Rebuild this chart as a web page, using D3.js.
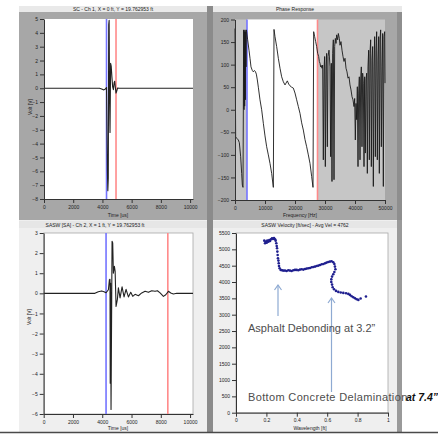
<!DOCTYPE html>
<html>
<head>
<meta charset="utf-8">
<script src="https://cdn.jsdelivr.net/npm/d3@7"></script>
<style>
  body { margin: 0; background: #fff; }
  svg { display: block; }
  text { font-family: "Liberation Sans", Arial, sans-serif; }
</style>
</head>
<body>
<svg id="chart" width="438" height="434"></svg>
<script>
// ---- Source signal (SC, channel 1) ----
const scTime = [0, 3800, 3950, 4100, 4200, 4280, 4340, 4370, 4400, 4430, 4460, 4490, 4520, 4560, 4600, 4650, 4700, 4750, 4800, 4840, 4880, 4930, 4980, 5040, 5150, 10200];
const scVolt = [0, 0, -0.05, -0.12, -0.05, 0.05, -6.0, -7.4, -6.5, 4.6, 4.9, -1.0, -3.2, 1.8, 1.6, 0.8, 0.1, -0.1, 0.4, 0.5, 0.1, -0.35, -0.2, 0.02, 0, 0];
const scCursors = [4280, 4930];

// ---- Receiver signal (SASW, channel 2) ----
const saTime = [0, 3500, 3730, 3960, 4120, 4260, 4420, 4490, 4530, 4545, 4570, 4600, 4670, 4715, 4760, 4830, 4880, 4943, 5034, 5103, 5217, 5354, 5490, 5627, 5787, 5946, 6083, 6242, 6470, 6698, 6926, 7154, 7382, 7610, 7769, 7952, 8179, 8339, 8521, 8681, 8863, 9090, 10200];
const saVolt = [0, 0, 0.08, 0.12, 0.08, 0.03, 0.18, 0.68, 0.7, -4.47, 0.5, -5.77, 2.59, 2.5, 1.0, 1.34, 1.1, -0.65, -0.3, 0.27, -0.23, 0.32, -0.18, 0.2, -0.18, 0.05, -0.15, -0.05, -0.12, 0.02, 0.1, 0.05, 0.13, 0.1, 0.13, 0.02, -0.15, -0.07, 0.1, 0.02, -0.03, 0, 0];
const saCursors = [4260, 8480];

// ---- Phase response ----
const phaseFreq = [0, 222, 556, 1111, 1444, 1889, 2222, 2444, 2667, 2778, 2889, 3000, 3111, 3222, 3333, 3444, 3556, 3667, 3778, 3889,
  4222, 4667, 5000, 5333, 5778, 6111, 6444, 6778, 7111, 7444, 7778, 8333, 8889, 9444, 10000, 10556, 11111, 11667, 12222, 12778,
  13000, 13333, 13889, 14444, 15000, 15556, 16111, 16667, 17000, 17444, 17889, 18333, 18889, 19444, 20000, 20556, 21111, 21667, 22222, 22778, 23333, 23889, 24444, 25000, 25556, 26000,
  26222, 26556, 26889, 27222, 27556, 27889, 28111, 28333, 28556, 28778, 29000, 29222, 29444, 29667, 29889, 30111, 30333, 30556, 30778, 31000, 31333, 31667, 31889, 32111, 32333, 32556, 32778, 33000, 33222, 33444, 33667, 33889, 34222, 34444, 34778, 35000, 35333, 35667, 36000, 36333, 36667, 37000, 37333, 37667, 38000, 38333, 38667, 39000, 39333, 39667, 39889,
  40111, 40333, 40556, 40778, 41000, 41222, 41444, 41667, 41889, 42111, 42333, 42556, 42778, 43000, 43222, 43444, 43667, 43889, 44111, 44333, 44556, 44778, 45000, 45222, 45444, 45667, 45889, 46111, 46333, 46556, 46778, 47000, 47222, 47444, 47667, 47889, 48111, 48333, 48556, 48778, 49000, 49222, 49444, 49667, 49889, 50000];
const phaseDeg = [180, -60, -63, -67, -73, -104, -141, -167, -172, 0, 177, 0, 173, 8, 177, 22, 173, 95, 177, 173,
  155, 132, 114, 95, 87, 84, 87, 85, 79, 66, 50, 22, 0, -30, -58, -82, -100, -119, -141, -172,
  178, 162, 140, 114, 92, 73, 62, 55, 59, 64, 57, 53, 50, 48, 37, 22, 7, -8, -29, -45, -66, -82, -100, -119, -148, -172,
  173, 162, 151, 140, 125, 118, 107, 103, 95, 98, 92, 99, -111, 88, 118, -126, 95, 125, -82, 118, 132, 95, -104, 103, -159, 125, 155, -155, 140, 158, 147, 166, 155, 169, 158, 143, 151, 132, 118, 107, 114, 92, 84, 70, 73, 55, 44, 29, 22, 7, 25,
  -67, 14, -22, 51, -126, 37, 73, -111, 66, 95, -82, 81, 59, -126, 73, -96, 66, 81, -141, 95, 132, -111, 125, 155, -126, 110, 140, -170, 95, 162, -104, 132, 173, -111, 110, 162, -141, 155, 177, -82, 95, 169, -170, 162, 173, 59];
const phaseCursors = [4000, 27500];

// ---- Dispersion curve ----
const wavelength = [0.186, 0.191, 0.197, 0.202, 0.206, 0.213, 0.219, 0.224, 0.230, 0.237, 0.243, 0.250, 0.257, 0.261, 0.265, 0.268, 0.270, 0.272, 0.274, 0.276, 0.279, 0.281, 0.283, 0.287, 0.294, 0.303, 0.311, 0.322, 0.333, 0.344, 0.355, 0.366, 0.377, 0.388, 0.399, 0.410, 0.421, 0.432, 0.443, 0.454, 0.465, 0.476, 0.487, 0.498, 0.509, 0.520, 0.531, 0.542, 0.553, 0.564, 0.575, 0.586, 0.596, 0.607, 0.618, 0.629, 0.640, 0.647, 0.651, 0.654, 0.647, 0.640, 0.632, 0.627, 0.627, 0.632, 0.636, 0.645, 0.658, 0.673, 0.689, 0.706, 0.724, 0.739, 0.750, 0.761, 0.772, 0.783, 0.794, 0.805, 0.820, 0.855];
const velocity = [5266, 5184, 5235, 5205, 5266, 5235, 5286, 5256, 5306, 5337, 5317, 5347, 5306, 5266, 5184, 5103, 5031, 4930, 4828, 4726, 4655, 4573, 4492, 4420, 4370, 4359, 4349, 4349, 4339, 4359, 4349, 4339, 4359, 4370, 4370, 4359, 4380, 4390, 4380, 4400, 4410, 4420, 4431, 4451, 4461, 4471, 4492, 4502, 4522, 4543, 4553, 4573, 4594, 4614, 4624, 4634, 4604, 4553, 4471, 4390, 4308, 4237, 4166, 4084, 4003, 3921, 3840, 3779, 3728, 3697, 3677, 3667, 3657, 3636, 3606, 3565, 3534, 3504, 3473, 3453, 3494, 3555];

// ---- Tick labels ----
const timeTicks = [0, 2000, 4000, 6000, 8000, 10000];
const scVoltTicks = [5, 4, 3, 2, 1, 0, -1, -2, -3, -4, -5, -6, -7, -8];
const saVoltTicks = [3, 2, 1, 0, -1, -2, -3, -4, -5, -6];
const freqTicks = [0, 10000, 20000, 30000, 40000, 50000];
const phaseTicks = [200, 150, 100, 50, 0, -50, -100, -150, -200];
const wlTicks = [0, 0.2, 0.4, 0.6, 0.8, 1];
const velTicks = [0, 500, 1000, 1500, 2000, 2500, 3000, 3500, 4000, 4500, 5000, 5500];

const svg = d3.select("#chart");

// ---------- panel chrome ----------
// bottom panels background
svg.append("rect").attr("x", 19).attr("y", 220).attr("width", 381).attr("height", 212).attr("fill", "#efefef");
// top frames
svg.append("rect").attr("x", 19).attr("y", 12).attr("width", 190).attr("height", 208).attr("fill", "#a7a7a7");
svg.append("rect").attr("x", 212).attr("y", 12).attr("width", 190).attr("height", 208).attr("fill", "#a7a7a7");
svg.append("rect").attr("x", 397).attr("y", 12).attr("width", 5).attr("height", 208).attr("fill", "#8e8e8e");
// title strips
svg.append("rect").attr("x", 19).attr("y", 6).attr("width", 383).attr("height", 6).attr("fill", "#e9e9e9");
svg.append("rect").attr("x", 19).attr("y", 221).attr("width", 378).attr("height", 7).attr("fill", "#e6e6e6");
// dividers
svg.append("rect").attr("x", 207).attr("y", 6).attr("width", 6).attr("height", 426).attr("fill", "#8b8b8b");
svg.append("rect").attr("x", 397).attr("y", 220).attr("width", 5).attr("height", 212).attr("fill", "#9a9a9a");
// bottom rule
svg.append("line").attr("x1", 0).attr("x2", 438).attr("y1", 432.5).attr("y2", 432.5).attr("stroke", "#4a4a4a").attr("stroke-width", 1.5);

function styleAxis(g) {
  g.attr("font-size", null).attr("font-family", null);
  g.selectAll("text").attr("font-size", 5).attr("fill", "#222");
  g.selectAll("line").attr("stroke", "#333");
  g.select(".domain").attr("stroke", "#333");
}

function title(x, y, t) {
  svg.append("text").attr("x", x).attr("y", y).attr("text-anchor", "middle")
    .attr("font-size", 5).attr("fill", "#222").text(t);
}

function axes(xs, ys, xt, yt, fmtX, fmtY, bottom, left) {
  svg.append("g").attr("transform", `translate(0,${bottom})`)
    .call(d3.axisBottom(xs).tickValues(xt).tickFormat(fmtX).tickSize(4).tickPadding(2).tickSizeOuter(0))
    .call(styleAxis);
  svg.append("g").attr("transform", `translate(${left},0)`)
    .call(d3.axisLeft(ys).tickValues(yt).tickFormat(fmtY).tickSize(4).tickPadding(2).tickSizeOuter(0))
    .call(styleAxis);
}

function cursors(xs, vals, y0, y1) {
  const cols = ["#7474ff", "#ff8a8a"];
  vals.forEach((v, i) => {
    svg.append("line").attr("x1", xs(v)).attr("x2", xs(v)).attr("y1", y0).attr("y2", y1)
      .attr("stroke", cols[i]).attr("stroke-width", 1.6);
  });
}

function trace(xs, ys, X, Y, color, w) {
  const pts = X.map((d, i) => [d, Y[i]]);
  svg.append("path").datum(pts)
    .attr("d", d3.line().x(d => xs(d[0])).y(d => ys(d[1])))
    .attr("fill", "none").attr("stroke", color).attr("stroke-width", w).attr("stroke-linejoin", "round");
}

const fmtInt = d3.format("d");

// ---------- top-left: source time history ----------
{
  const x = d3.scaleLinear().domain([0, 10200]).range([44, 193]);
  const y = d3.scaleLinear().domain([-8, 5]).range([199, 19]);
  svg.append("rect").attr("x", 44).attr("y", 19).attr("width", 149).attr("height", 180).attr("fill", "#fff");
  cursors(x, scCursors, 19, 199);
  trace(x, y, scTime, scVolt, "#222", 1.1);
  axes(x, y, timeTicks, scVoltTicks, fmtInt, fmtInt, 199, 44);
  title(113, 11, "SC - Ch 1, X = 0 ft, Y = 19.762953 ft");
  svg.append("text").attr("x", 118).attr("y", 217).attr("text-anchor", "middle").attr("font-size", 5).attr("fill", "#222").text("Time [us]");
  svg.append("text").attr("transform", "translate(32,107) rotate(-90)").attr("text-anchor", "middle").attr("font-size", 5).attr("fill", "#222").text("Volt [V]");
}

// ---------- top-right: phase response ----------
{
  const x = d3.scaleLinear().domain([0, 50000]).range([235, 385]);
  const y = d3.scaleLinear().domain([-200, 200]).range([200, 19.5]);
  svg.append("rect").attr("x", 235).attr("y", 19.5).attr("width", 150).attr("height", 180.5).attr("fill", "#c6c6c6");
  svg.append("rect").attr("x", x(phaseCursors[0])).attr("y", 19.5)
    .attr("width", x(phaseCursors[1]) - x(phaseCursors[0])).attr("height", 180.5).attr("fill", "#fff");
  cursors(x, phaseCursors, 19.5, 200);
  trace(x, y, phaseFreq, phaseDeg, "#1a1a1a", 0.9);
  axes(x, y, freqTicks, phaseTicks, fmtInt, fmtInt, 200, 235);
  title(295, 11, "Phase Response");
  svg.append("text").attr("x", 300).attr("y", 217).attr("text-anchor", "middle").attr("font-size", 5).attr("fill", "#222").text("Frequency [Hz]");
}

// ---------- bottom-left: receiver time history ----------
{
  const x = d3.scaleLinear().domain([0, 10200]).range([43.7, 193]);
  const y = d3.scaleLinear().domain([-6, 3]).range([414, 233]);
  svg.append("rect").attr("x", 43.7).attr("y", 233).attr("width", 149.3).attr("height", 181)
    .attr("fill", "#fff").attr("stroke", "#a8a8a8").attr("stroke-width", 0.8);
  cursors(x, saCursors, 233, 414);
  trace(x, y, saTime, saVolt, "#222", 1.1);
  axes(x, y, timeTicks, saVoltTicks, fmtInt, fmtInt, 414, 43.7);
  title(95, 226.5, "SASW [SA] - Ch 2, X = 1 ft, Y = 19.762953 ft");
  svg.append("text").attr("x", 118).attr("y", 430).attr("text-anchor", "middle").attr("font-size", 5).attr("fill", "#222").text("Time [us]");
  svg.append("text").attr("transform", "translate(31,317) rotate(-90)").attr("text-anchor", "middle").attr("font-size", 5).attr("fill", "#222").text("Volt [V]");
}

// ---------- bottom-right: dispersion curve ----------
{
  const x = d3.scaleLinear().domain([0, 1]).range([236, 388]);
  const y = d3.scaleLinear().domain([0, 5500]).range([412.7, 233]);
  svg.append("rect").attr("x", 236).attr("y", 233).attr("width", 152).attr("height", 179.7)
    .attr("fill", "#fff").attr("stroke", "#a8a8a8").attr("stroke-width", 0.8);
  axes(x, y, wlTicks, velTicks, d3.format("~g"), fmtInt, 412.7, 236);
  svg.append("g").selectAll("circle").data(wavelength).join("circle")
    .attr("cx", d => x(d)).attr("cy", (d, i) => y(velocity[i])).attr("r", 1.3).attr("fill", "#1f1f8f");
  title(305, 226.5, "SASW Velocity [ft/sec] - Avg Vel = 4762");
  svg.append("text").attr("x", 310).attr("y", 430).attr("text-anchor", "middle").attr("font-size", 5).attr("fill", "#222").text("Wavelength [ft]");

  // annotation arrows
  const arrowCol = "#8eaad2";
  const arrows = [[278, 316, 285], [331.5, 392, 298]];
  arrows.forEach(([ax, yb, yt]) => {
    svg.append("line").attr("x1", ax).attr("x2", ax).attr("y1", yb).attr("y2", yt).attr("stroke", arrowCol).attr("stroke-width", 1.2);
    svg.append("path").attr("d", `M${ax - 3.5},${yt + 5}L${ax},${yt}L${ax + 3.5},${yt + 5}`)
      .attr("fill", "none").attr("stroke", arrowCol).attr("stroke-width", 1.2);
  });
  svg.append("text").attr("x", 248).attr("y", 332).attr("font-size", 11).attr("fill", "#4d4d4d")
    .text("Asphalt Debonding at 3.2\u201d");
  svg.append("text").attr("x", 248).attr("y", 401).attr("font-size", 11).attr("letter-spacing", 0.35).attr("fill", "#4d4d4d")
    .text("Bottom Concrete Delamination");
  svg.append("text").attr("x", 406).attr("y", 401).attr("font-size", 10.5).attr("font-weight", "bold").attr("font-style", "italic").attr("fill", "#111")
    .text("at 7.4\u201d");
}
</script>
</body>
</html>
